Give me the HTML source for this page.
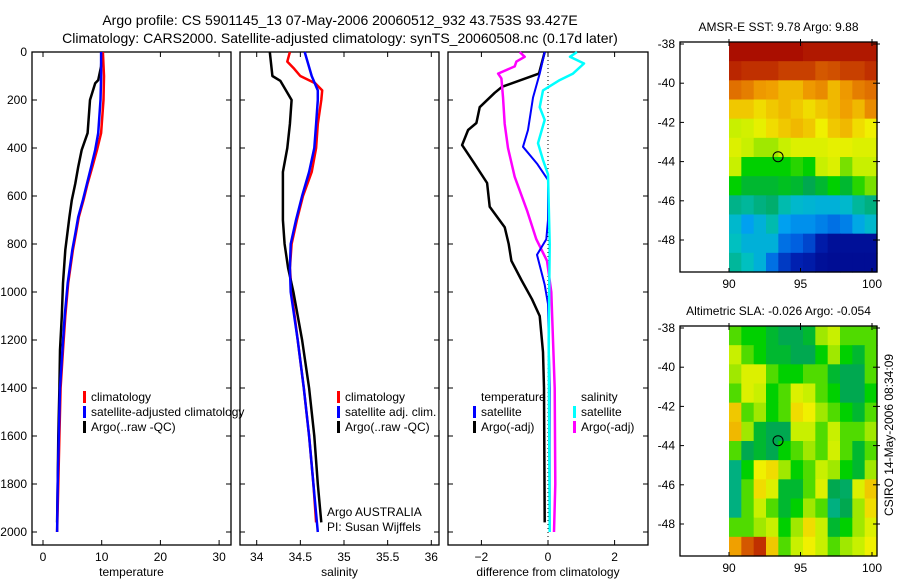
<!DOCTYPE html>
<html><head><meta charset="utf-8"><style>
html,body{margin:0;padding:0;background:#fff}
svg text{font-family:"Liberation Sans",sans-serif;font-size:12px;fill:#000}
</style></head><body>
<svg id="fig" width="900" height="580" viewBox="0 0 900 580" xmlns="http://www.w3.org/2000/svg">
<text x="340" y="25" text-anchor="middle" style="font-size:14px">Argo profile: CS 5901145_13 07-May-2006 20060512_932 43.753S 93.427E</text>
<text x="340" y="43" text-anchor="middle" style="font-size:14px">Climatology: CARS2000. Satellite-adjusted climatology: synTS_20060508.nc (0.17d later)</text>
<g id="layer"></g>
<text transform="translate(893,435) rotate(-90)" text-anchor="middle">CSIRO 14-May-2006 08:34:09</text>
</svg>
<script>
// ---------- data ----------
const tempClimDepth=[0,100,200,338,408,479,548,617,688,757,825,963,1100,1242,1400,1600,1800,2000];
const tempClim=[10.2,10.4,10.3,9.9,9.2,8.4,7.6,6.9,6.1,5.6,5.1,4.3,3.8,3.4,3.0,2.8,2.6,2.4];
const tempSat=[9.9,9.9,9.8,9.4,8.9,8.2,7.5,6.8,6.0,5.5,5.0,4.2,3.7,3.3,2.9,2.7,2.5,2.4];
const tempArgoDepth=[0,60,117,130,200,338,408,479,548,617,688,825,963,1100,1242,1400,1600,1800,1960];
const tempArgo=[10.0,9.9,9.4,8.9,8.0,7.6,6.6,6.0,5.5,4.9,4.5,3.8,3.4,3.2,2.9,2.8,2.6,2.5,2.4];

const salClimDepth=[0,40,70,100,130,160,200,300,400,500,600,700,800,900,1000,1200,1400,1600,1800,1960];
const salClim=[34.38,34.35,34.43,34.5,34.67,34.75,34.74,34.7,34.68,34.63,34.53,34.46,34.4,34.38,34.4,34.47,34.54,34.6,34.65,34.68];
const salSatDepth=[0,100,160,200,300,400,500,600,700,800,900,1000,1200,1400,1600,1800,2000];
const salSat=[34.55,34.63,34.7,34.7,34.68,34.66,34.6,34.52,34.45,34.39,34.38,34.39,34.47,34.54,34.6,34.65,34.7];
const salArgoDepth=[0,100,120,200,300,400,500,600,700,800,900,1000,1200,1400,1600,1800,1960];
const salArgo=[34.15,34.18,34.27,34.4,34.38,34.35,34.3,34.3,34.3,34.32,34.36,34.42,34.52,34.6,34.66,34.7,34.74];

const dTArgoDepth=[0,90,145,170,230,296,325,388,463,546,645,730,800,870,950,1030,1100,1250,1400,1960];
const dTArgo=[-0.1,-0.27,-1.38,-1.6,-2.05,-2.15,-2.4,-2.58,-2.22,-1.83,-1.75,-1.3,-1.18,-1.1,-0.8,-0.48,-0.25,-0.15,-0.12,-0.1];
const dTSatDepth=[0,90,190,325,395,465,533,700,780,845,970,1050,1400,2000];
const dTSat=[-0.1,-0.25,-0.45,-0.6,-0.75,-0.33,0,0,-0.05,-0.33,-0.1,0,0.05,0.05];
const dSArgoDepth=[0,20,40,60,90,110,188,300,400,520,660,780,870,1000,1400,1800,2000];
const dSArgo=[-0.85,-0.7,-0.95,-1.0,-1.5,-1.4,-1.35,-1.3,-1.2,-1.0,-0.63,-0.35,-0.03,0.1,0.2,0.22,0.18];
const dSSatDepth=[0,20,48,90,117,160,230,283,380,450,510,800,1200,2000];
const dSSat=[0.87,0.66,1.08,0.75,0.35,-0.15,-0.25,-0.1,-0.3,-0.15,0,0.05,0.02,0.05];

const sstGrid=[
[.97,.97,.97,.97,.97,.97,.95,.95,.95,.95,.95,.95],
[.92,.9,.9,.9,.88,.88,.88,.85,.86,.88,.88,.9],
[.82,.8,.76,.75,.72,.72,.76,.78,.72,.76,.8,.82],
[.7,.7,.68,.7,.72,.7,.68,.7,.72,.75,.72,.78],
[.62,.63,.65,.68,.7,.72,.7,.66,.7,.72,.68,.66],
[.64,.62,.6,.6,.62,.64,.64,.64,.65,.65,.64,.64],
[.62,.55,.55,.55,.55,.56,.55,.62,.64,.58,.62,.62],
[.55,.52,.52,.52,.53,.52,.5,.52,.55,.52,.56,.58],
[.44,.42,.45,.47,.4,.36,.35,.34,.34,.36,.42,.45],
[.36,.3,.34,.4,.3,.28,.28,.26,.24,.26,.32,.36],
[.38,.34,.34,.34,.24,.22,.18,.1,.06,.06,.06,.06],
[.42,.38,.34,.24,.16,.12,.1,.06,.05,.05,.05,.05]];
const slaGrid=[
[.57,.55,.55,.52,.5,.5,.52,.6,.62,.57,.57,.57],
[.62,.57,.55,.52,.52,.5,.5,.55,.6,.55,.52,.57],
[.6,.64,.64,.57,.55,.55,.57,.57,.52,.5,.5,.57],
[.57,.64,.62,.55,.57,.64,.62,.57,.55,.5,.5,.55],
[.7,.57,.6,.55,.57,.68,.66,.6,.57,.55,.52,.57],
[.72,.6,.52,.5,.5,.62,.62,.57,.62,.57,.57,.6],
[.57,.5,.52,.5,.55,.57,.6,.57,.63,.57,.52,.57],
[.45,.55,.66,.68,.6,.55,.57,.62,.6,.55,.52,.6],
[.45,.57,.68,.64,.52,.52,.57,.64,.5,.48,.64,.7],
[.45,.57,.62,.57,.52,.55,.6,.57,.45,.5,.6,.68],
[.57,.57,.6,.62,.55,.6,.68,.62,.52,.55,.6,.64],
[.75,.85,.9,.7,.57,.62,.66,.62,.57,.6,.62,.66]];
const depthTicks=[0,200,400,600,800,1000,1200,1400,1600,1800,2000];
const tempTicks=[0,10,20,30];
const salTicks=[34,34.5,35,35.5,36];
const diffTicks=[-2,0,2];
const latTicks=[-38,-40,-42,-44,-46,-48];
const lonTicks=[90,95,100];
const argoLon=93.43, argoLat=-43.75;

// ---------- helpers ----------
const NS="http://www.w3.org/2000/svg";
const layer=document.getElementById('layer');
function mk(tag,attrs,parent){const e=document.createElementNS(NS,tag);for(const k in attrs)e.setAttribute(k,attrs[k]);(parent||layer).appendChild(e);return e;}
const yD=d=>52+d*0.24;
const BOT=545, TOP=52;
function panel(name,x0,x1,xs,ticks,label,labelFmt){
  const g=mk('g',{});
  
  
  mk('rect',{x:x0,y:TOP,width:x1-x0,height:BOT-TOP,fill:'none',stroke:'#000','stroke-width':1.3},g);
  depthTicks.forEach(d=>{const y=yD(d);
    mk('line',{x1:x0,x2:x0+5,y1:y,y2:y,stroke:'#000'},g);
    mk('line',{x1:x1-5,x2:x1,y1:y,y2:y,stroke:'#000'},g);
    if(name==='temperature-panel'){const t=mk('text',{x:x0-5,y:y+4,'text-anchor':'end'},g);t.textContent=d;
      
      }
  });
  ticks.forEach(v=>{const x=xs(v);
    mk('line',{x1:x,x2:x,y1:TOP,y2:TOP+5,stroke:'#000'},g);
    mk('line',{x1:x,x2:x,y1:BOT-5,y2:BOT,stroke:'#000'},g);
    const t=mk('text',{x:x,y:BOT+16,'text-anchor':'middle'},g);t.textContent=labelFmt?labelFmt(v):v;
    
    
  });
  const l=mk('text',{x:(x0+x1)/2,y:BOT+31,'text-anchor':'middle'},g);l.textContent=label;
  
  
  return g;
}
function line(g,name,depths,vals,xs,color,w){
  const pts=depths.map((d,i)=>xs(vals[i]).toFixed(1)+','+yD(d).toFixed(1)).join(' ');
  const p=mk('polyline',{points:pts,fill:'none',stroke:color,'stroke-width':w||2.5,'stroke-linejoin':'round'},g);
  
  
}
function legend(g,x,y,color,text){
  if(color)mk('rect',{x:x,y:y-10,width:3,height:12,fill:color},g);
  const t=mk('text',{x:x+8,y:y},g);t.textContent=text;
  
  
}

// ---------- panel 1: temperature ----------
const xT=v=>43+v*5.87;
const g1=panel('temperature-panel',32,231,xT,tempTicks,'temperature');
line(g1,'temp-argo-line',tempArgoDepth,tempArgo,xT,'#000');
line(g1,'temp-climatology-line',tempClimDepth,tempClim,xT,'#f00');
line(g1,'temp-satellite-line',tempClimDepth,tempSat,xT,'#00f');
legend(g1,83,401,'#f00','climatology');
legend(g1,83,416,'#00f','satellite-adjusted climatology');
legend(g1,83,431,'#000','Argo(..raw -QC)');

// ---------- panel 2: salinity ----------
const xS=v=>256.7+(v-34)*87.3;
const g2=panel('salinity-panel',240,439,xS,salTicks,'salinity');
line(g2,'sal-climatology-line',salClimDepth,salClim,xS,'#f00');
line(g2,'sal-argo-line',salArgoDepth,salArgo,xS,'#000');
line(g2,'sal-satellite-line',salSatDepth,salSat,xS,'#00f');
mk('rect',{x:439.5,y:400,width:10,height:30,fill:'#fff'},layer);
legend(g2,337,401,'#f00','climatology');
legend(g2,337,416,'#00f','satellite adj. clim.');
legend(g2,337,431,'#000','Argo(..raw -QC)');
const a1=mk('text',{x:327,y:516},g2);a1.textContent='Argo AUSTRALIA';


const a2=mk('text',{x:327,y:531},g2);a2.textContent='PI: Susan Wijffels';



// ---------- panel 3: difference ----------
const xDf=v=>548+v*33.3;
const g3=panel('difference-panel',448,648,xDf,diffTicks,'difference from climatology',v=>v<0?'\u2212'+(-v):v);
mk('line',{x1:xDf(0),x2:xDf(0),y1:TOP,y2:BOT,stroke:'#000','stroke-dasharray':'1,3'},g3);
line(g3,'diff-temp-argo-line',dTArgoDepth,dTArgo,xDf,'#000');
line(g3,'diff-sal-argo-line',dSArgoDepth,dSArgo,xDf,'#f0f');
line(g3,'diff-temp-satellite-line',dTSatDepth,dTSat,xDf,'#00f',2);
line(g3,'diff-sal-satellite-line',dSSatDepth,dSSat,xDf,'#0ff');
legend(g3,473,401,null,'temperature');
legend(g3,473,416,'#00f','satellite');
legend(g3,473,431,'#000','Argo(-adj)');
legend(g3,573,401,null,'salinity');
legend(g3,573,416,'#0ff','satellite');
legend(g3,573,431,'#f0f','Argo(-adj)');

// ---------- maps ----------
const stops=[[0,[0,0,128]],[.12,[0,32,176]],[.22,[0,96,224]],[.3,[0,160,240]],[.38,[0,192,192]],[.45,[0,176,128]],[.5,[0,168,80]],[.55,[0,208,0]],[.58,[120,224,0]],[.62,[200,240,0]],[.66,[240,240,0]],[.7,[240,200,0]],[.75,[240,160,0]],[.82,[224,112,0]],[.9,[192,48,0]],[1,[160,0,0]]];
function cmap(v){for(let i=1;i<stops.length;i++){if(v<=stops[i][0]){const a=stops[i-1],b=stops[i],f=(v-a[0])/(b[0]-a[0]);return 'rgb('+a[1].map((c,k)=>Math.round(c+(b[1][k]-c)*f)).join(',')+')';}}return 'rgb(160,0,0)';}
function map(name,top,grid,title){
  const g=mk('g',{});
  
  
  const x0=680,x1=877,bot=top+230;
  const lx=lon=>729+(lon-90)*14.3;
  const ly=lat=>top+2+(-38-lat)*19.6;
  const rows=grid.length,cols=grid[0].length;
  const cw=(x1-729)/cols,ch=(bot-top)/rows;
  grid.forEach((row,r)=>row.forEach((v,c)=>{
    const cell=mk('rect',{x:(729+c*cw).toFixed(2),y:(top+r*ch).toFixed(2),width:(cw+0.6).toFixed(2),height:(ch+0.6).toFixed(2),fill:cmap(v)},g);
    
    
  }));
  mk('rect',{x:x0,y:top,width:x1-x0,height:bot-top,fill:'none',stroke:'#000','stroke-width':1.3},g);
  latTicks.forEach(l=>{const y=ly(l);
    mk('line',{x1:x0,x2:x0+4,y1:y,y2:y,stroke:'#000'},g);
    mk('line',{x1:x1-4,x2:x1+3,y1:y,y2:y,stroke:'#000'},g);
    const t=mk('text',{x:x0-5,y:y+4,'text-anchor':'end'},g);t.textContent=l;
    
    });
  lonTicks.forEach(l=>{const x=lx(l);
    mk('line',{x1:x,x2:x,y1:top-3,y2:top+4,stroke:'#000'},g);
    mk('line',{x1:x,x2:x,y1:bot-4,y2:bot,stroke:'#000'},g);
    const t=mk('text',{x:x,y:bot+16,'text-anchor':'middle'},g);t.textContent=l;
    
    });
  const c=mk('circle',{cx:lx(argoLon),cy:ly(argoLat),r:5,fill:'none',stroke:'#000','stroke-width':1},g);
  
  
  const t=mk('text',{x:(x0+x1)/2,y:top-11,'text-anchor':'middle'},g);t.textContent=title;
  
  
}
map('sst-map',42,sstGrid,'AMSR-E SST: 9.78 Argo: 9.88');
map('sla-map',326,slaGrid,'Altimetric SLA: -0.026 Argo: -0.054');
</script>
</body></html>
